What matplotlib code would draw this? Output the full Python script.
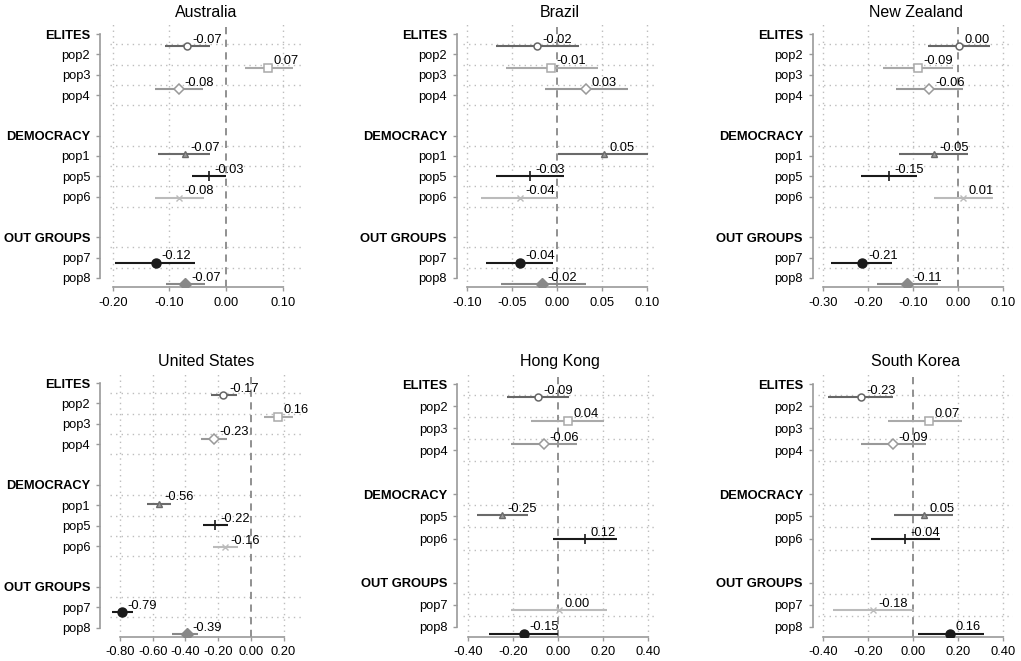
import numpy as np
import matplotlib
matplotlib.use("Agg")
import matplotlib.pyplot as plt

plt.rcParams["font.family"] = ["Liberation Sans", "DejaVu Sans"]

# ---- data -------------------------------------------------------------
ROWS_FULL = ["ELITES", "pop2", "pop3", "pop4", "",
             "DEMOCRACY", "pop1", "pop5", "pop6", "",
             "OUT GROUPS", "pop7", "pop8"]
ROWS_SHORT = ["ELITES", "pop2", "pop3", "pop4", "",
              "DEMOCRACY", "pop5", "pop6", "",
              "OUT GROUPS", "pop7", "pop8"]
HEADERS = ["ELITES", "DEMOCRACY", "OUT GROUPS"]

ITEMS_FULL = ["pop2", "pop3", "pop4", "pop1", "pop5", "pop6", "pop7", "pop8"]
ITEMS_SHORT = ["pop2", "pop3", "pop4", "pop5", "pop6", "pop7", "pop8"]

COUNTRIES = ["Australia", "Brazil", "New Zealand",
             "United States", "Hong Kong", "South Korea"]

aus_est = [-0.069, 0.074, -0.084, -0.073, -0.030, -0.083, -0.124, -0.072]
aus_lo = [-0.108, 0.033, -0.126, -0.120, -0.061, -0.126, -0.196, -0.107]
aus_hi = [-0.029, 0.117, -0.041, -0.028, 0.000, -0.039, -0.055, -0.038]

bra_est = [-0.022, -0.006, 0.033, 0.052, -0.030, -0.041, -0.041, -0.016]
bra_lo = [-0.068, -0.056, -0.013, 0.001, -0.068, -0.084, -0.079, -0.062]
bra_hi = [0.025, 0.046, 0.079, 0.101, 0.008, 0.000, -0.004, 0.032]

nzl_est = [0.002, -0.090, -0.064, -0.054, -0.154, 0.010, -0.213, -0.113]
nzl_lo = [-0.067, -0.167, -0.139, -0.132, -0.217, -0.054, -0.282, -0.180]
nzl_hi = [0.070, -0.011, 0.011, 0.022, -0.091, 0.077, -0.148, -0.045]

usa_est = [-0.168, 0.163, -0.228, -0.561, -0.218, -0.158, -0.786, -0.392]
usa_lo = [-0.245, 0.082, -0.306, -0.633, -0.290, -0.233, -0.847, -0.480]
usa_hi = [-0.082, 0.255, -0.143, -0.490, -0.141, -0.076, -0.722, -0.320]

hkg_est = [-0.092, 0.041, -0.064, -0.249, 0.118, 0.003, -0.154]
hkg_lo = [-0.227, -0.123, -0.212, -0.363, -0.025, -0.212, -0.308]
hkg_hi = [0.047, 0.203, 0.084, -0.133, 0.259, 0.218, 0.000]

kor_est = [-0.234, 0.071, -0.089, 0.047, -0.036, -0.181, 0.163]
kor_lo = [-0.381, -0.114, -0.233, -0.086, -0.190, -0.356, 0.019]
kor_hi = [-0.089, 0.215, 0.056, 0.178, 0.119, 0.003, 0.314]

X_TICKS = [[-0.2, -0.1, 0.0, 0.1],
           [-0.1, -0.05, 0.0, 0.05, 0.1],
           [-0.3, -0.2, -0.1, 0.0, 0.1],
           [-0.8, -0.6, -0.4, -0.2, 0.0, 0.2],
           [-0.4, -0.2, 0.0, 0.2, 0.4],
           [-0.4, -0.2, 0.0, 0.2, 0.4]]

# ---- layout / styles ----------------------------------------------------
W, H = 1021, 661
# plot region in pixels: left, right, top, bottom ; x-limits ; spine offset px
PANELS = [
    ((110, 302, 23, 287), (-0.2048, 0.1335), 10),
    ((463.3, 656.7, 23, 287), (-0.1038, 0.1111), 6.6),
    ((818.3, 1013, 23, 287), (-0.3111, 0.1216), 5.6),
    ((110, 302, 372, 636.7), (-0.861, 0.3127), 10),
    ((463.3, 656.7, 372, 636.7), (-0.4222, 0.4373), 6),
    ((818.3, 1013, 372, 636.7), (-0.4222, 0.443), 5.6),
]

# marker style by position in the series
STYLES = [
    dict(marker="o", color="#666666", ms=5, mfc="white", mew=1.1),
    dict(marker="s", color="#aaaaaa", ms=5.5, mfc="white", mew=1.1),
    dict(marker="D", color="#999999", ms=5.5, mfc="white", mew=1.1),
    dict(marker="^", color="#6a6a6a", ms=5, mfc="#9a9a9a", mew=1.0),
    dict(marker="+", color="#1a1a1a", ms=7, mfc="#1a1a1a", mew=1.2),
    dict(marker="x", color="#bbbbbb", ms=4, mfc="#bbbbbb", mew=1.0),
    dict(marker="o", color="#1a1a1a", ms=6.5, mfc="#1a1a1a", mew=1.0),
    dict(marker="D", color="#888888", ms=6.5, mfc="#888888", mew=1.0),
]

SPINE = "#9a9a9a"
GRID = "#bdbdbd"


def draw(ax, title, rows, items, est, lo, hi, ticks, xlim, offset):
    n = len(rows)
    lab_pos = np.linspace(0.45, n - 1 - 0.3, n)
    step = lab_pos[1] - lab_pos[0]
    ax.set_ylim(n - 1 + 0.12, -0.06)
    ax.set_xlim(*xlim)

    # horizontal dotted grid between rows
    for i, r in enumerate(rows[:-1]):
        if r:
            ax.axhline(lab_pos[i] + step / 2, color=GRID, ls=(0, (1, 3)),
                       lw=1.0, zorder=0)
    for t in ticks:
        if abs(t) > 1e-9:
            ax.axvline(t, color=GRID, ls=(0, (1, 3)), lw=1.0, zorder=0)
    ax.axvline(0, color="#888888", ls=(0, (4, 3)), lw=1.3, zorder=1)

    for k, name in enumerate(items):
        y = rows.index(name)
        st = STYLES[k]
        ax.plot([lo[k], hi[k]], [y, y], color=st["color"], lw=1.5,
                solid_capstyle="butt", zorder=2)
        ax.plot(est[k], y, ls="none", marker=st["marker"], ms=st["ms"],
                mec=st["color"], mfc=st["mfc"], mew=st["mew"], zorder=3)
        ax.annotate(f"{est[k]:.2f}", (est[k], y), xytext=(4, 2.5),
                    textcoords="offset points", ha="left", va="baseline",
                    fontsize=9.3, color="black", zorder=4)

    for s in ("top", "right"):
        ax.spines[s].set_visible(False)
    ax.spines["left"].set_position(("outward", offset * 0.72))
    ax.spines["left"].set_bounds(lab_pos[0], lab_pos[-1])
    ax.spines["bottom"].set_bounds(ticks[0], ticks[-1])
    for s in ("left", "bottom"):
        ax.spines[s].set_color(SPINE)
        ax.spines[s].set_linewidth(1.2)

    keep = [i for i, r in enumerate(rows) if r]
    ax.set_yticks([lab_pos[i] for i in keep])
    ax.set_yticklabels([rows[i] for i in keep])
    ax.set_xticks(ticks)
    ax.set_xticklabels([f"{t:.2f}" for t in ticks])
    ax.tick_params(axis="both", colors=SPINE, labelcolor="black",
                   labelsize=9.3, length=3, width=1.0, pad=4)
    # headers in bold (after spine moves, which rebuild the ticks)
    for lab in ax.get_yticklabels():
        if lab.get_text() in HEADERS:
            lab.set_fontweight("bold")
    ax.set_title(title, fontsize=11.5, pad=4)


fig = plt.figure(figsize=(W / 100, H / 100), dpi=100)

data = [
    (aus_est, aus_lo, aus_hi, ROWS_FULL, ITEMS_FULL),
    (bra_est, bra_lo, bra_hi, ROWS_FULL, ITEMS_FULL),
    (nzl_est, nzl_lo, nzl_hi, ROWS_FULL, ITEMS_FULL),
    (usa_est, usa_lo, usa_hi, ROWS_FULL, ITEMS_FULL),
    (hkg_est, hkg_lo, hkg_hi, ROWS_SHORT, ITEMS_SHORT),
    (kor_est, kor_lo, kor_hi, ROWS_SHORT, ITEMS_SHORT),
]

for title, (est, lo, hi, rows, items), ticks, (box, xlim, off) in \
        zip(COUNTRIES, data, X_TICKS, PANELS):
    l, r, t, b = box
    ax = fig.add_axes([l / W, (H - b) / H, (r - l) / W, (b - t) / H])
    ax.patch.set_alpha(0)
    draw(ax, title, rows, items, est, lo, hi, ticks, xlim, off)

fig.savefig("out.png", dpi=100, facecolor="white")
